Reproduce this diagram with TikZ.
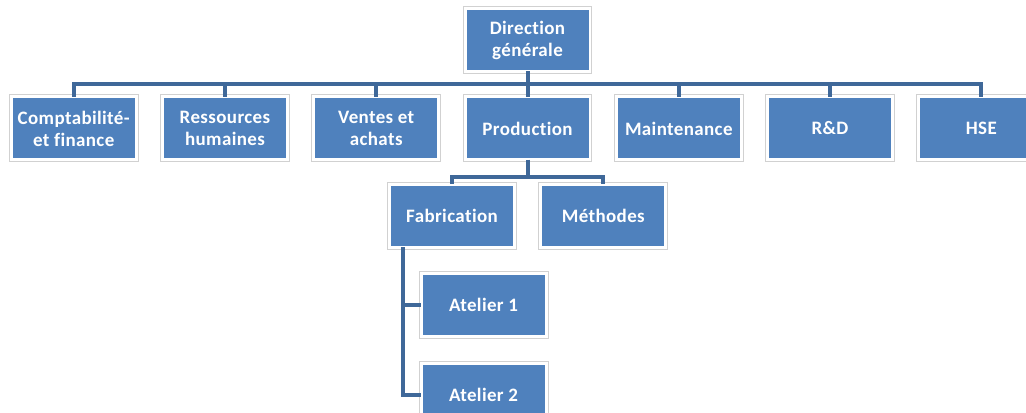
\documentclass[tikz,border=0pt]{standalone}
\usepackage{fontspec}
\setmainfont{Carlito}[Ligatures=NoCommon, LetterSpace=2]
\usetikzlibrary{positioning}
\definecolor{boxblue}{RGB}{79,129,189}
\definecolor{linkblue}{RGB}{63,104,153}

\begin{document}
\begin{tikzpicture}[
  x=0.02cm, y=-0.02cm,
  box/.style={fill=boxblue, draw=white, line width=0.06cm, outer sep=0pt,
    preaction={draw=black!18, line width=0.1cm},
    minimum width=2.5cm, minimum height=1.26cm, align=center, text=white,
    font=\fontsize{10.8}{12.5}\selectfont\bfseries},
  conn/.style={draw=linkblue, line width=0.08cm},
]
  \useasboundingbox (0,0) rectangle (1026,412);

  \node[box] at (527.5,40) (dg) {Direction\\générale};

  \node[box, below=0.51cm of dg] (prod) {Production};
  \node[box, left=0.526cm of prod] (va) {Ventes et\\achats};
  \node[box, left=0.526cm of va] (rh) {Ressources\\humaines};
  \node[box, left=0.526cm of rh] (compta) {Comptabilité-\\et finance};
  \node[box, right=0.526cm of prod] (maint) {Maintenance};
  \node[box, right=0.526cm of maint] (rd) {R\&D};
  \node[box, right=0.526cm of rd] (hse) {HSE};

  \node[box, below=0.49cm of prod, xshift=-1.51cm] (fab) {Fabrication};
  \node[box, right=0.526cm of fab] (meth) {Méthodes};

  \node[box, below=0.52cm of fab, xshift=0.63cm] (at1) {Atelier 1};
  \node[box, below=0.54cm of at1] (at2) {Atelier 2};

  % liaisons
  \foreach \n in {compta,rh,va,prod,maint,rd,hse}
    \draw[conn] (dg.south) -- ++(0,12.5) -| (\n.north);
  \foreach \n in {fab,meth}
    \draw[conn] (prod.south) -- ++(0,17) -| (\n.north);
  \coordinate (fabx) at ([xshift=0.27cm]fab.south west);
  \draw[conn] (fabx) |- (at1.west);
  \draw[conn] (fabx) |- (at2.west);
\end{tikzpicture}
\end{document}
